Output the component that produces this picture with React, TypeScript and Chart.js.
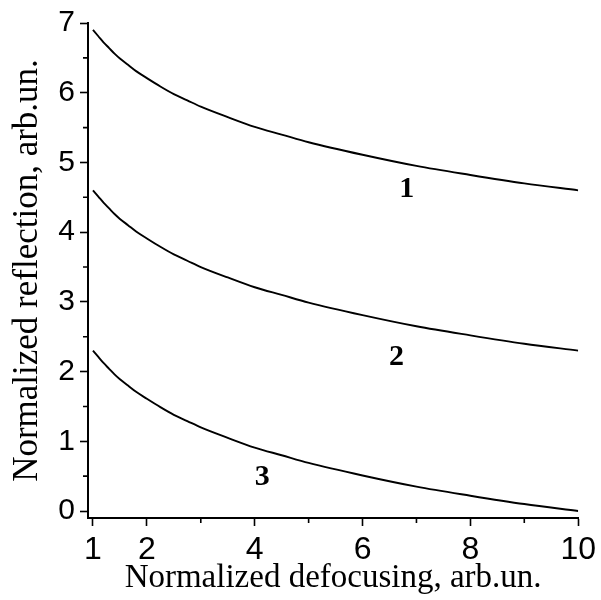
import React, { useEffect, useRef } from "react";
import { Chart, registerables } from "chart.js";

Chart.register(...registerables);

// Data
const xValues = [1, 1.1, 1.2, 1.3, 1.4, 1.5, 1.65, 1.8, 2, 2.25, 2.5, 2.75, 3, 3.5, 4, 4.5, 5, 6, 7, 8, 9, 10];
const curve1 = [6.9, 6.81, 6.72, 6.64, 6.56, 6.49, 6.4, 6.31, 6.21, 6.09, 5.98, 5.89, 5.8, 5.65, 5.51, 5.4, 5.29, 5.11, 4.95, 4.82, 4.7, 4.6];
const curve2 = [4.6, 4.51, 4.42, 4.34, 4.26, 4.19, 4.1, 4.01, 3.91, 3.79, 3.68, 3.59, 3.5, 3.35, 3.21, 3.1, 2.99, 2.81, 2.65, 2.52, 2.4, 2.3];
const curve3 = [2.3, 2.21, 2.12, 2.04, 1.96, 1.89, 1.8, 1.71, 1.61, 1.49, 1.38, 1.29, 1.2, 1.05, 0.91, 0.8, 0.69, 0.51, 0.35, 0.22, 0.1, 0.0];

const xTicks = [1, 2, 3, 4, 5, 6, 7, 8, 9, 10];
const xLabelled = [1, 2, 4, 6, 8, 10];
const xMinor = [3, 5, 7, 9];
const yTicks = [0, 0.5, 1, 1.5, 2, 2.5, 3, 3.5, 4, 4.5, 5, 5.5, 6, 6.5, 7];
const yLabelled = [0, 1, 2, 3, 4, 5, 6, 7];
const yMinor = [0.5, 1.5, 2.5, 3.5, 4.5, 5.5, 6.5];

const curveLabels = ["1", "2", "3"];
const curveLabelX = [6.82, 6.63, 4.14];
const curveLabelY = [4.62, 2.2, 0.48];

const xTitle = "Normalized defocusing, arb.un.";
const yTitle = "Normalized reflection, arb.un.";

const toPoints = (ys: number[]) => xValues.map((x, i) => ({ x, y: ys[i] }));

const sansFamily = "'Liberation Sans', Arimo, Arial, Helvetica, sans-serif";
const serifFamily = "'Liberation Serif', Tinos, 'Times New Roman', serif";

const extrasPlugin = {
  id: "extras",
  afterDraw(chart: any) {
    const { ctx, chartArea, scales } = chart;
    const xs = scales.x;
    const ys = scales.y;
    ctx.save();
    ctx.strokeStyle = "#000";
    ctx.lineWidth = 1.6;
    ctx.beginPath();
    xMinor.forEach((v) => {
      const px = xs.getPixelForValue(v);
      ctx.moveTo(px, chartArea.bottom);
      ctx.lineTo(px, chartArea.bottom + 5);
    });
    yMinor.forEach((v) => {
      const py = ys.getPixelForValue(v);
      ctx.moveTo(chartArea.left - 5, py);
      ctx.lineTo(chartArea.left, py);
    });
    ctx.stroke();
    ctx.fillStyle = "#000";
    ctx.font = "bold 30px " + serifFamily;
    ctx.textAlign = "center";
    ctx.textBaseline = "middle";
    curveLabels.forEach((t, i) => {
      ctx.fillText(t, xs.getPixelForValue(curveLabelX[i]), ys.getPixelForValue(curveLabelY[i]));
    });
    ctx.restore();
  },
};

export default function App() {
  const ref = useRef<HTMLCanvasElement | null>(null);
  useEffect(() => {
    document.body.style.margin = "0";
    if (!ref.current) return;
    const lineStyle = {
      borderColor: "#000",
      borderWidth: 1.9,
      pointRadius: 0,
      fill: false,
      cubicInterpolationMode: "monotone" as const,
    };
    const chart = new Chart(ref.current, {
      type: "line",
      data: {
        datasets: [
          { label: "1", data: toPoints(curve1), ...lineStyle },
          { label: "2", data: toPoints(curve2), ...lineStyle },
          { label: "3", data: toPoints(curve3), ...lineStyle },
        ],
      },
      options: {
        responsive: false,
        animation: false,
        layout: { padding: { left: 0, right: 20, top: 22, bottom: 0 } },
        plugins: { legend: { display: false }, tooltip: { enabled: false } },
        scales: {
          x: {
            type: "linear",
            min: 0.908,
            max: 10,
            afterBuildTicks: (scale: any) => {
              scale.ticks = xTicks.map((v) => ({ value: v }));
            },
            afterFit: (scale: any) => {
              scale.height = 82;
            },
            ticks: {
              autoSkip: false,
              maxRotation: 0,
              padding: 5,
              color: "#000",
              font: { family: sansFamily, size: 32 },
              callback: (v: any) => (xLabelled.includes(Number(v)) ? String(v) : ""),
            },
            grid: {
              display: true,
              drawOnChartArea: false,
              drawTicks: true,
              tickLength: 8,
              tickWidth: 1.6,
              tickColor: (c: any) => (xMinor.includes(c.tick?.value) ? "rgba(0,0,0,0)" : "#000"),
            },
            border: { display: true, color: "#000", width: 2 },
            title: {
              display: true,
              text: xTitle,
              color: "#000",
              font: { family: serifFamily, size: 33 },
              padding: { top: 0, bottom: 2 },
            },
          },
          y: {
            type: "linear",
            min: -0.1,
            max: 7,
            afterBuildTicks: (scale: any) => {
              scale.ticks = yTicks.map((v) => ({ value: v }));
            },
            afterFit: (scale: any) => {
              scale.width = 88;
            },
            ticks: {
              autoSkip: false,
              padding: 5,
              color: "#000",
              font: { family: sansFamily, size: 30 },
              callback: (v: any) => (yLabelled.includes(Number(v)) ? String(v) : ""),
            },
            grid: {
              display: true,
              drawOnChartArea: false,
              drawTicks: true,
              tickLength: 8,
              tickWidth: 1.6,
              tickColor: (c: any) => (yMinor.includes(c.tick?.value) ? "rgba(0,0,0,0)" : "#000"),
            },
            border: { display: true, color: "#000", width: 2 },
            title: {
              display: true,
              text: yTitle,
              color: "#000",
              font: { family: serifFamily, size: 35 },
              padding: { top: 7, bottom: 0 },
            },
          },
        },
      },
      plugins: [extrasPlugin],
    });
    return () => chart.destroy();
  }, []);
  return <canvas ref={ref} width={601} height={600} style={{ display: "block" }} />;
}
